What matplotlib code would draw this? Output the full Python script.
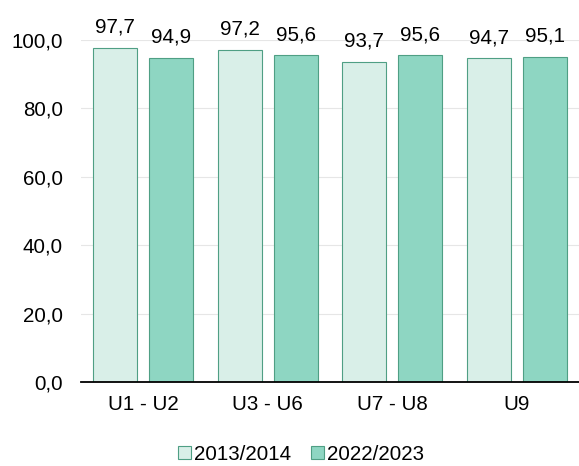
import numpy as np
import matplotlib
matplotlib.use("Agg")
import matplotlib.pyplot as plt
from matplotlib.patches import Patch

plt.rcParams["font.family"] = ["Liberation Sans", "DejaVu Sans"]

categories = ["U1 - U2", "U3 - U6", "U7 - U8", "U9"]
series_names = ["2013/2014", "2022/2023"]
values_2013 = [97.7, 97.2, 93.7, 94.7]
values_2022 = [94.9, 95.6, 95.6, 95.1]

LIGHT = "#d9efe8"
DARK = "#8ed6c2"
EDGE = "#4f9f84"
FS = 14.8

fig = plt.figure(figsize=(5.79, 4.66), dpi=100)
ax = fig.add_axes([0.14, 0.18, 0.86, 0.734])

x = np.arange(len(categories))
w = 0.353
off = 0.225
b1 = ax.bar(x - off, values_2013, w, color=LIGHT, edgecolor=EDGE, linewidth=0.8, zorder=2)
b2 = ax.bar(x + off, values_2022, w, color=DARK, edgecolor=EDGE, linewidth=0.8, zorder=2)

for bars, vals in ((b1, values_2013), (b2, values_2022)):
    for r, v in zip(bars, vals):
        ax.text(r.get_x() + r.get_width() / 2, v + 3.2, f"{v:.1f}".replace(".", ","),
                ha="center", va="bottom", fontsize=FS, clip_on=False)

ax.set_xlim(-0.5, len(categories) - 0.5)
ax.set_ylim(0, 100)
ticks = np.arange(0, 101, 20)
ax.set_yticks(ticks)
ax.set_yticklabels([f"{t:.1f}".replace(".", ",") for t in ticks])
ax.set_xticks(x)
ax.set_xticklabels(categories)
ax.tick_params(axis="both", length=0, labelsize=FS)
ax.tick_params(axis="x", pad=9)
ax.tick_params(axis="y", pad=13)
ax.yaxis.grid(True, color="#e6e6e6", linewidth=0.8, zorder=0)
ax.set_axisbelow(True)
for s in ("top", "right", "left"):
    ax.spines[s].set_visible(False)
ax.spines["bottom"].set_linewidth(1.3)

handles = [Patch(facecolor=LIGHT, edgecolor=EDGE, linewidth=0.8),
           Patch(facecolor=DARK, edgecolor=EDGE, linewidth=0.8)]
fig.legend(handles, series_names, loc="center", bbox_to_anchor=(0.52, 0.025),
           ncol=2, frameon=False, fontsize=FS, handlelength=0.6, handleheight=0.6,
           handletextpad=0.15, columnspacing=1.0, borderpad=0)

fig.savefig("out.png", dpi=100)
